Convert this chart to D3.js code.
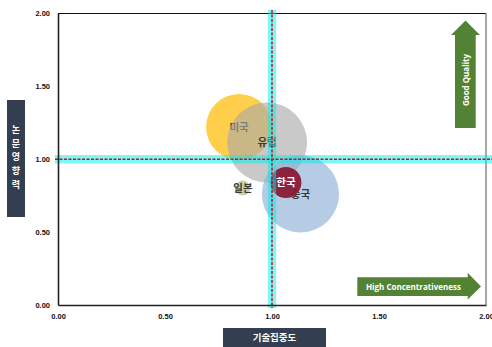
<!DOCTYPE html>
<html>
<head>
<meta charset="utf-8">
<script src="https://cdn.jsdelivr.net/npm/d3@7/dist/d3.min.js"></script>
<style>
  html, body { margin: 0; padding: 0; background: #fff; }
  svg { display: block; }
</style>
</head>
<body>
<svg id="chart" width="492" height="347"></svg>
<script>
// Regions (bubbles): concentration index, impact index, bubble size
const regions = ["미국", "유럽", "중국", "한국", "일본"];
const concentration = [0.846, 0.977, 1.133, 1.065, 0.864];
const impact = [1.221, 1.115, 0.762, 0.840, 0.803];
const paperVolume = [68, 100, 93, 15, 3.5];
const bubbleColors = ["#FFC21A", "#A8A8A8", "#8FB0D6", "#8A1A36", "#C3D5A2"];
const bubbleOpacity = [0.78, 0.62, 0.65, 0.95, 1];
const labelColors = ["#3a3a3a", "#3a3a3a", "#3a3a3a", "#ffffff", "#3a3a3a"];

const xTicks = [0, 0.5, 1, 1.5, 2];
const yTicks = [0, 0.5, 1, 1.5, 2];
const reference = 1.0;

const xTitle = "기술집중도";
const yTitle = "논문영향력";
const qualityLabel = "Good Quality";
const concLabel = "High Concentrativeness";

const svg = d3.select("#chart");
const plotLeft = 58, plotRight = 486, plotTop = 13.5, plotBottom = 305;

const x = d3.scaleLinear().domain([0, 2]).range([plotLeft, plotRight]);
const y = d3.scaleLinear().domain([0, 2]).range([plotBottom, plotTop]);
const r = d3.scaleSqrt().domain([0, 100]).range([0, 40]);

const korFont = "'Noto Sans CJK KR', 'Noto Sans', sans-serif";
const tickFont = "'Liberation Sans', Arial, sans-serif";

// frame
svg.append("line").attr("x1", plotLeft).attr("x2", plotRight).attr("y1", plotTop).attr("y2", plotTop)
  .attr("stroke", "#111").attr("stroke-width", 1.2);
svg.append("line").attr("x1", plotRight).attr("x2", plotRight).attr("y1", plotTop).attr("y2", plotBottom)
  .attr("stroke", "#8a8a8a").attr("stroke-width", 1.5);

// bubbles
const g = svg.append("g");
regions.forEach((name, i) => {
  g.append("circle")
    .attr("cx", x(concentration[i]))
    .attr("cy", y(impact[i]))
    .attr("r", r(paperVolume[i]))
    .attr("fill", bubbleColors[i])
    .attr("fill-opacity", bubbleOpacity[i]);
  if (i !== 3) {
    g.append("text")
      .attr("x", x(concentration[i]))
      .attr("y", y(impact[i]))
      .attr("dy", "0.36em")
      .attr("text-anchor", "middle")
      .attr("font-family", korFont)
      .attr("font-size", 10.5)
      .attr("font-weight", 700)
      .attr("fill", labelColors[i])
      .text(name);
  }
});
// Korea label on top of its own bubble
g.append("text")
  .attr("x", x(concentration[3]))
  .attr("y", y(impact[3]))
  .attr("dy", "0.36em")
  .attr("text-anchor", "middle")
  .attr("font-family", korFont)
  .attr("font-size", 10.5)
  .attr("font-weight", 700)
  .attr("fill", labelColors[3])
  .text(regions[3]);

// reference lines (cyan band + red dashed)
svg.append("rect")
  .attr("x", x(reference) - 4.2).attr("width", 8.4)
  .attr("y", 10).attr("height", 298)
  .attr("fill", "#00F0F0").attr("fill-opacity", 0.5);
svg.append("rect")
  .attr("x", 55).attr("width", 437)
  .attr("y", y(reference) - 4.2).attr("height", 8.4)
  .attr("fill", "#00F0F0").attr("fill-opacity", 0.5);
svg.append("line")
  .attr("x1", x(reference)).attr("x2", x(reference))
  .attr("y1", 10).attr("y2", 308)
  .attr("stroke", "#C0141E").attr("stroke-width", 1.5).attr("stroke-dasharray", "3,1.5");
svg.append("line")
  .attr("x1", 55).attr("x2", 492)
  .attr("y1", y(reference)).attr("y2", y(reference))
  .attr("stroke", "#C0141E").attr("stroke-width", 1.5).attr("stroke-dasharray", "3,1.5");

// axes
const xAxis = d3.axisBottom(x).tickValues(xTicks).tickSize(0).tickPadding(9).tickFormat(d3.format(".2f"));
const yAxis = d3.axisLeft(y).tickValues(yTicks).tickSize(0).tickPadding(8).tickFormat(d3.format(".2f"));
const gx = svg.append("g").attr("transform", `translate(0,${plotBottom})`).call(xAxis);
const gy = svg.append("g").attr("transform", `translate(${plotLeft},0)`).call(yAxis);
[gx, gy].forEach(a => {
  a.select(".domain").attr("stroke", "#222").attr("stroke-width", 1.6);
  a.selectAll("text").attr("font-family", tickFont).attr("font-size", 7.5)
    .attr("font-weight", 700).attr("fill", "#111");
});

// axis title boxes
svg.append("rect").attr("x", 223).attr("y", 328).attr("width", 103).attr("height", 19).attr("fill", "#333F50");
svg.append("text").attr("x", 274.5).attr("y", 337.5).attr("dy", "0.36em")
  .attr("text-anchor", "middle").attr("font-family", korFont).attr("font-size", 9.5)
  .attr("font-weight", 700).attr("fill", "#fff").text(xTitle);

svg.append("rect").attr("x", 7).attr("y", 100).attr("width", 18).attr("height", 117).attr("fill", "#333F50");
const yt = svg.append("text").attr("text-anchor", "middle").attr("font-family", korFont)
  .attr("font-size", 9).attr("font-weight", 700).attr("fill", "#fff");
Array.from(yTitle).forEach((ch, k) => {
  yt.append("tspan").attr("x", 16).attr("y", 130 + k * 13.6).attr("dy", "0.36em").text(ch);
});

// "Good Quality" arrow (upward)
const up = d3.path();
up.moveTo(455, 128); up.lineTo(455, 35); up.lineTo(451, 35); up.lineTo(465.5, 20.5);
up.lineTo(480, 35); up.lineTo(475.7, 35); up.lineTo(475.7, 128); up.closePath();
svg.append("path").attr("d", up.toString()).attr("fill", "#548235");
svg.append("text").attr("transform", "translate(466,80) rotate(-90)")
  .attr("text-anchor", "middle").attr("dy", "0.36em")
  .attr("font-family", "'Open Sans', 'Liberation Sans', sans-serif")
  .attr("font-size", 8).attr("font-weight", 700).attr("fill", "#fff").text(qualityLabel);

// "High Concentrativeness" arrow (rightward)
const rt = d3.path();
rt.moveTo(357.3, 277.3); rt.lineTo(467.7, 277.3); rt.lineTo(467.7, 272.7); rt.lineTo(481, 286.5);
rt.lineTo(467.7, 299.5); rt.lineTo(467.7, 296); rt.lineTo(357.3, 296); rt.closePath();
svg.append("path").attr("d", rt.toString()).attr("fill", "#548235");
svg.append("text").attr("x", 366).attr("y", 287).attr("dy", "0.36em")
  .attr("font-family", "'Open Sans', 'Liberation Sans', sans-serif")
  .attr("font-size", 8).attr("font-weight", 700).attr("fill", "#fff").text(concLabel);
</script>
</body>
</html>
